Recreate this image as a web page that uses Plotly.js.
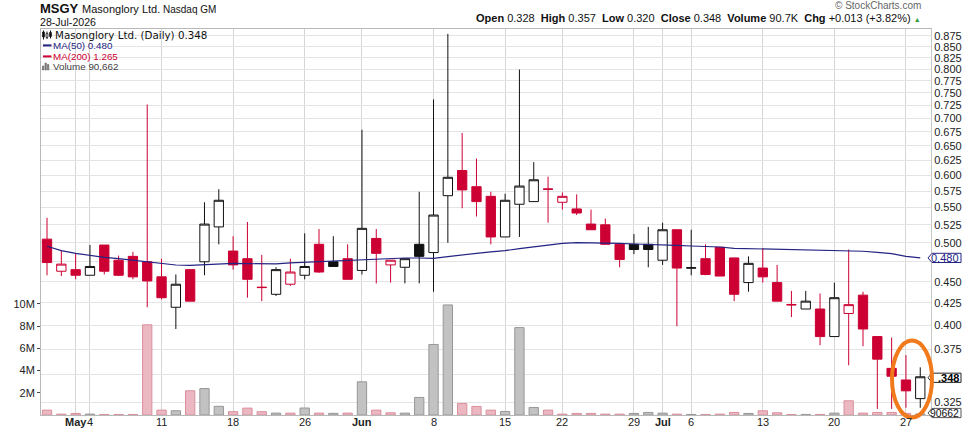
<!DOCTYPE html>
<html><head><meta charset="utf-8">
<script src="https://cdn.plot.ly/plotly-3.0.1.min.js"></script>
<style>html,body{margin:0;padding:0;background:#fff}#chart{width:976px;height:432px}</style>
</head><body><div id="chart"></div>
<script>
// ---------------- DATA ----------------
const dates = ['2026-04-29','2026-04-30','2026-05-01','2026-05-04','2026-05-05','2026-05-06','2026-05-07','2026-05-08',
 '2026-05-11','2026-05-12','2026-05-13','2026-05-14','2026-05-15','2026-05-18','2026-05-19','2026-05-20','2026-05-21','2026-05-22',
 '2026-05-26','2026-05-27','2026-05-28','2026-05-29','2026-06-01','2026-06-02','2026-06-03','2026-06-04','2026-06-05',
 '2026-06-08','2026-06-09','2026-06-10','2026-06-11','2026-06-12','2026-06-15','2026-06-16','2026-06-17','2026-06-18',
 '2026-06-22','2026-06-23','2026-06-24','2026-06-25','2026-06-26','2026-06-29','2026-06-30','2026-07-01','2026-07-02',
 '2026-07-06','2026-07-07','2026-07-08','2026-07-09','2026-07-10','2026-07-13','2026-07-14','2026-07-15','2026-07-16','2026-07-17',
 '2026-07-20','2026-07-21','2026-07-22','2026-07-23','2026-07-24','2026-07-27','2026-07-28'];
const openP  = [0.505,0.463,0.465,0.458,0.497,0.477,0.482,0.475,0.456,0.420,0.465,0.475,0.522,0.489,0.479,0.4435,0.435,0.447,
 0.458,0.498,0.475,0.479,0.464,0.506,0.471,0.468,0.498,0.487,0.568,0.608,0.582,0.567,0.508,0.555,0.559,0.5785,
 0.558,0.548,0.526,0.525,0.498,0.498,0.498,0.477,0.518,0.4675,0.479,0.494,0.480,0.449,0.467,0.449,0.4232,0.418,0.418,
 0.388,0.413,0.434,0.388,0.356,0.345,0.328];
const highP  = [0.535,0.490,0.486,0.497,0.497,0.483,0.488,0.727,0.479,0.459,0.465,0.558,0.578,0.509,0.529,0.484,0.468,0.479,
 0.513,0.519,0.509,0.498,0.679,0.519,0.477,0.479,0.574,0.737,0.880,0.673,0.628,0.574,0.571,0.799,0.622,0.598,
 0.573,0.570,0.547,0.534,0.498,0.512,0.522,0.528,0.518,0.518,0.498,0.494,0.480,0.482,0.493,0.471,0.439,0.439,0.436,
 0.449,0.491,0.438,0.388,0.387,0.369,0.357];
const lowP   = [0.458,0.457,0.453,0.458,0.459,0.457,0.453,0.420,0.429,0.396,0.427,0.458,0.498,0.465,0.431,0.427,0.433,0.445,
 0.453,0.461,0.469,0.453,0.459,0.448,0.449,0.448,0.448,0.438,0.500,0.549,0.537,0.498,0.508,0.508,0.559,0.528,
 0.547,0.539,0.518,0.498,0.468,0.485,0.468,0.471,0.399,0.458,0.458,0.457,0.427,0.438,0.449,0.427,0.409,0.418,0.379,
 0.388,0.359,0.378,0.319,0.319,0.320,0.320];
const closeP = [0.474,0.472,0.458,0.469,0.463,0.458,0.456,0.451,0.431,0.447,0.427,0.526,0.561,0.471,0.453,0.443,0.465,0.462,
 0.469,0.462,0.469,0.453,0.520,0.486,0.477,0.479,0.482,0.539,0.597,0.577,0.559,0.508,0.561,0.583,0.593,0.578,
 0.567,0.542,0.518,0.498,0.478,0.491,0.491,0.518,0.467,0.467,0.459,0.457,0.435,0.473,0.456,0.427,0.4227,0.427,0.388,
 0.431,0.423,0.396,0.365,0.3485,0.335,0.348];
const volume = [440000,80000,140000,80000,50000,50000,50000,8120000,440000,380000,2180000,2380000,780000,300000,620000,300000,170000,170000,
 630000,170000,150000,170000,2990000,440000,200000,170000,1580000,6350000,9910000,1040000,770000,440000,320000,7870000,680000,440000,
 80000,140000,140000,80000,80000,140000,230000,170000,80000,50000,50000,80000,230000,140000,380000,200000,50000,50000,50000,
 170000,1280000,170000,230000,230000,150000,90662];
const ma50 = [0.4954,0.4895,0.4860,0.4833,0.4806,0.4790,0.4769,0.4743,0.4730,0.4709,0.4705,0.4713,0.4718,0.4730,0.4726,0.4722,0.4722,0.4735,
 0.4743,0.4750,0.4756,0.4767,0.4778,0.4785,0.4792,0.4799,0.4799,0.4795,0.4818,0.4842,0.4860,0.4878,0.4895,0.4922,0.4948,0.4975,
 0.4993,0.5002,0.5002,0.5002,0.4993,0.4984,0.4980,0.4975,0.4966,0.4957,0.4954,0.4944,0.4926,0.4922,0.4922,0.4913,0.4908,0.4904,0.4899,
 0.4895,0.4895,0.4887,0.4873,0.4855,0.4820,0.4800];
const priorClose = 0.490;
const tickDates  = ['2026-05-01','2026-05-04','2026-05-11','2026-05-18','2026-05-26','2026-06-01','2026-06-08','2026-06-15',
 '2026-06-22','2026-06-29','2026-07-01','2026-07-06','2026-07-13','2026-07-20','2026-07-27'];
const tickLabels = ['<b>May</b>','4','11','18','26','<b>Jun</b>','8','15','22','29','<b>Jul</b>','6','13','20','27'];
const priceTicks = [0.325,0.350,0.375,0.400,0.425,0.450,0.475,0.500,0.525,0.550,0.575,0.600,0.625,0.650,0.675,0.700,
 0.725,0.750,0.775,0.800,0.825,0.850,0.875];
const hiddenPriceTicks = [0.350, 0.475];   // covered by the value tags in the reference
const volTicks = [2e6,4e6,6e6,8e6,10e6];
const volTickLabels = ['2M','4M','6M','8M','10M'];
const ticker = 'MSGY', company = 'Masonglory Ltd.', exchange = 'Nasdaq GM', asOf = '28-Jul-2026';
const legendMain = 'Masonglory Ltd. (Daily) 0.348', legendMA50 = 'MA(50) 0.480', legendMA200 = 'MA(200) 1.265', legendVol = 'Volume 90,662';
const quoteLabels = ['Open','High','Low','Close','Volume','Chg'];
const quoteValues = ['0.328','0.357','0.320','0.348','90.7K','+0.013 (+3.82%)'];
const lastPriceText = '.348', maText = '0.480', volText = '90662';

// ---------------- GEOMETRY / STYLE ----------------
const W = 976, H = 432, ML = 41, MR = 45, MT = 29, MB = 17;
const PW = W - ML - MR, PH = H - MT - MB;
const pTop = 0.8917, pBot = 0.3138, vTop = 34.75e6;
const RED = '#CC0033', BLK = '#111111', NAVY = '#232383';
const xp = px => (px - ML) / PW;
const yp = py => (H - MB - py) / PH;
const pyPrice = v => MT + (Math.log10(pTop) - Math.log10(v)) / (Math.log10(pTop) - Math.log10(pBot)) * PH;
const pyVol = v => H - MB - v / vTop * PH;

const isRed = closeP.map((c, i) => c < (i ? closeP[i - 1] : priorClose));
const pick = (arr, want) => arr.map((v, i) => isRed[i] === want ? v : null);

function candle(want, col) {
  return {
    type: 'candlestick', x: dates, xaxis: 'x', yaxis: 'y2',
    open: pick(openP, want), high: pick(highP, want), low: pick(lowP, want), close: pick(closeP, want),
    increasing: {line: {color: col, width: 1}, fillcolor: '#ffffff'},
    decreasing: {line: {color: col, width: 1}, fillcolor: col},
    whiskerwidth: 0, hoverinfo: 'skip', showlegend: false
  };
}

const traces = [
  {type: 'bar', x: dates, y: volume, xaxis: 'x', yaxis: 'y', width: 0.65,
   marker: {color: isRed.map(r => r ? '#EBB7C0' : '#C2C2C2'),
            line: {color: isRed.map(r => r ? '#D9909D' : '#979797'), width: 1}},
   hoverinfo: 'skip', showlegend: false},
  candle(true, RED),
  candle(false, BLK),
  {type: 'scatter', mode: 'lines', x: dates, y: ma50, xaxis: 'x', yaxis: 'y2',
   line: {color: NAVY, width: 1.2}, hoverinfo: 'skip', showlegend: false}
];

const F = 'Liberation Sans, Arial, sans-serif';
const ann = [];
function txt(text, px, py, size, color, anchor, family) {
  ann.push({text: text, xref: 'paper', yref: 'paper', x: xp(px), y: yp(py), xanchor: anchor || 'left', yanchor: 'middle',
            showarrow: false, borderpad: 0, font: {family: family || F, size: size, color: color}});
}
// header
txt('<b>' + ticker + '</b>', 39, 8.4, 13, '#111');
txt(company, 80.5, 8.9, 11, '#111');
txt(exchange, 161.5, 9.2, 10, '#111');
txt(asOf, 39, 22.3, 10.6, '#111');
const sp = '\u00A0';
let q = quoteLabels.map((l, i) => '<b>' + l + '</b>' + sp + quoteValues[i]).join(sp + sp);
q += sp + '<span style="color:#2E9E3A;font-size:7px">▲</span>';
txt(q, 922, 18.2, 11, '#111', 'right');
txt('\u00A9 StockCharts.com', 922, 5.6, 10, '#666', 'right');
// in-plot legend
txt(legendMain, 54, 34.8, 10.3, '#111', 'left', 'DejaVu Sans, Verdana, sans-serif');
txt(legendMA50, 52, 45.4, 9.8, NAVY);
txt(legendMA200, 52, 56.4, 9.8, RED);
txt(legendVol, 52, 66.8, 9.8, '#444');
// date labels under the axis, placed at their categories
tickDates.forEach((d, i) => {
  ann.push({text: tickLabels[i], xref: 'x', yref: 'paper', x: d, y: yp(422), xanchor: 'center', yanchor: 'middle',
            showarrow: false, borderpad: 0, font: {family: F, size: 11, color: '#222'}});
});

// right-side value tags
const shapes = [];
function tag(pyc, border, text, bold, color, size) {
  const x0 = 928, x1 = 961, hh = 4.6;
  shapes.push({type: 'path', xref: 'paper', yref: 'paper', layer: 'above',
    path: `M ${xp(x0)} ${yp(pyc)} L ${xp(x0 + 4)} ${yp(pyc - hh)} L ${xp(x1)} ${yp(pyc - hh)} L ${xp(x1)} ${yp(pyc + hh)} L ${xp(x0 + 4)} ${yp(pyc + hh)} Z`,
    fillcolor: '#ffffff', line: {color: border, width: 1}});
  txt(bold ? '<b>' + text + '</b>' : text, 959.5, pyc + 0.3, size || 11, color, 'right');
}
tag(pyPrice(ma50[ma50.length - 1]), NAVY, maText, false, NAVY);
tag(pyPrice(closeP[closeP.length - 1]) + 1, '#222', lastPriceText, true, '#000');
tag(Math.max(pyVol(volume[volume.length - 1]) - 1.6, 413), '#555', volText, false, '#111', 10.4);

// legend glyphs
function rect(x0, y0, x1, y1, fill, line) {
  shapes.push({type: 'rect', xref: 'paper', yref: 'paper', x0: xp(x0), x1: xp(x1), y0: yp(y1), y1: yp(y0),
    fillcolor: fill, line: {color: line || fill, width: 0.8}, layer: 'above'});
}
function seg(x0, y0, x1, y1, col, w) {
  shapes.push({type: 'line', xref: 'paper', yref: 'paper', x0: xp(x0), x1: xp(x1), y0: yp(y0), y1: yp(y1),
    line: {color: col, width: w}, layer: 'above'});
}
seg(43.5, 30.5, 43.5, 39.5, '#111', 1); rect(42.6, 32, 44.4, 37, '#111');
seg(47, 31.5, 47, 39, '#111', 1); rect(46.1, 33.5, 47.9, 37.5, '#ffffff', '#111');
seg(50.5, 30.5, 50.5, 38.5, '#111', 1); rect(49.6, 32.5, 51.4, 36.5, '#111');
seg(43, 45.4, 51.5, 45.4, NAVY, 2);
seg(43, 56.4, 51.5, 56.4, RED, 2);
rect(42.5, 66, 43.8, 70, '#777'); rect(45, 63, 46.3, 70, '#777'); rect(47.5, 64.5, 48.8, 70, '#777');

// orange highlight ellipse
shapes.push({type: 'circle', xref: 'paper', yref: 'paper', x0: xp(892), x1: xp(932), y0: yp(417.5), y1: yp(340.5),
  line: {color: '#F07A1C', width: 4}, layer: 'above'});

const layout = {
  width: W, height: H, margin: {l: ML, r: MR, t: MT, b: MB, pad: 0},
  paper_bgcolor: '#ffffff', plot_bgcolor: '#ffffff',
  showlegend: false, hovermode: false, barmode: 'overlay', boxgap: 0.35, boxgroupgap: 0,
  font: {family: F, size: 11, color: '#222'},
  xaxis: {type: 'category', range: [-0.42, dates.length - 0.25], tickmode: 'array', tickvals: tickDates, ticktext: tickLabels,
          showticklabels: false,
          showgrid: true, gridcolor: '#D6D6D6', gridwidth: 1, ticks: '', showline: true, mirror: true, linecolor: '#B8B8B8',
          rangeslider: {visible: false}, fixedrange: true},
  yaxis: {range: [0, vTop], side: 'left', tickmode: 'array', tickvals: volTicks, ticktext: volTickLabels,
          ticks: 'outside', ticklen: 3, tickcolor: '#444', showgrid: false, zeroline: false, showline: true, linecolor: '#B8B8B8',
          tickfont: {family: F, size: 11, color: '#222'}, fixedrange: true},
  yaxis2: {type: 'log', overlaying: 'y', side: 'right', range: [Math.log10(pBot), Math.log10(pTop)], tickmode: 'array',
           tickvals: priceTicks, ticktext: priceTicks.map(v => hiddenPriceTicks.includes(v) ? '' : v.toFixed(3)),
           showgrid: true, gridcolor: '#E4E4E4',
           ticks: '', showline: true, linecolor: '#C8C8C8', zeroline: false,
           tickfont: {family: F, size: 11, color: '#222'}, fixedrange: true},
  annotations: ann, shapes: shapes
};
Plotly.newPlot('chart', traces, layout, {staticPlot: true, displayModeBar: false});
</script></body></html>
